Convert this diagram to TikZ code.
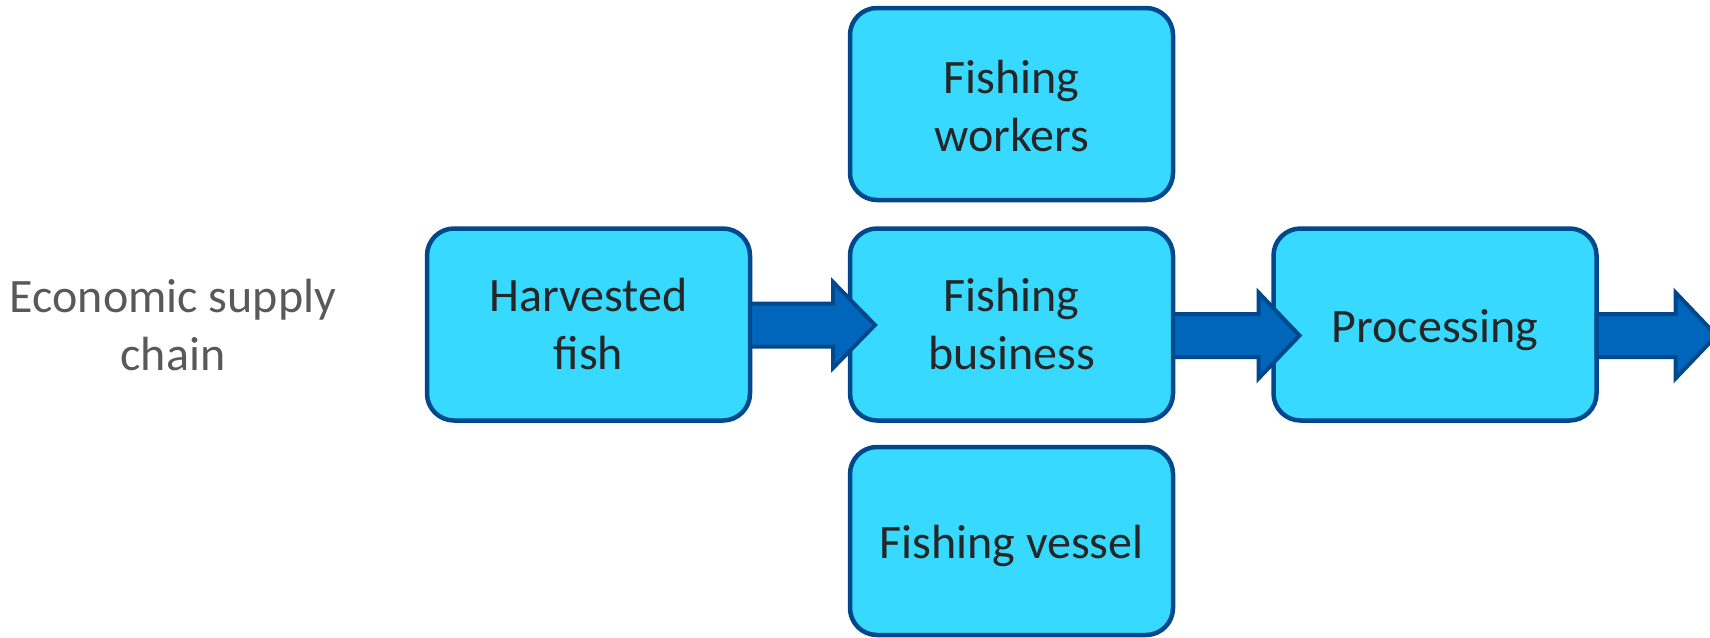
\documentclass[tikz,border=0pt]{standalone}
\usepackage{fontspec}
\setmainfont{Carlito}
\usetikzlibrary{calc}
\definecolor{boxfill}{RGB}{56,217,255}
\definecolor{boxline}{RGB}{0,72,140}
\definecolor{arrfill}{RGB}{0,102,187}
\definecolor{arrline}{RGB}{0,72,140}
\definecolor{boxtext}{RGB}{38,38,38}
\definecolor{labtext}{RGB}{89,89,89}
\tikzset{
  stagebox/.style={draw=boxline, fill=boxfill, line width=4.5pt, rounded corners=27pt,
    minimum width=323pt, minimum height=192pt, inner sep=0pt, outer sep=0pt,
    align=center, text=boxtext, font=\fontsize{48pt}{58pt}\selectfont},
  sidelabel/.style={align=center, text=labtext, inner sep=0pt, font=\fontsize{48pt}{58pt}\selectfont},
  fatarrow/.style={draw=arrline, fill=arrfill, line width=4pt, line join=miter}
}
\newcommand\fatarrowpath[3]{% start coord, end coord, head length
  \draw[fatarrow] let \p1=(#1), \p2=(#2) in
    (\x1,{\y1+21.5pt}) -- ({\x2-#3pt},{\y1+21.5pt}) -- ({\x2-#3pt},{\y1+43pt}) --
    (\x2,\y1) -- ({\x2-#3pt},{\y1-43pt}) -- ({\x2-#3pt},{\y1-21.5pt}) --
    (\x1,{\y1-21.5pt}) -- cycle;}
\newcommand\lowered[2]{\raisebox{-#1}[\height][\depth]{#2}}
\begin{document}
\begin{tikzpicture}[x=1pt,y=-1pt]
\useasboundingbox (0,0) rectangle (1710,637);
\node[sidelabel] (lab) at (173,325) {Economic supply\\chain};
\node[stagebox] (w) at (1011.5,104) {\lowered{2pt}{Fishing}\\\lowered{2pt}{workers}};
\node[stagebox] (b) at (1011.5,324.5) {Fishing\\business};
\node[stagebox] (h) at (588.5,324.5) {Harvested\\fish};
\node[stagebox] (p) at (1435,324.5) {\lowered{6pt}{Processing}};
\node[stagebox, minimum height=188pt] (v) at (1011.5,541) {\lowered{5pt}{Fishing vessel}};
% arrows
\path (h.east) ++(0,0.5) coordinate (a1s);
\path (b.west) ++(25,0.5) coordinate (a1e);
\path (b.east) ++(0,11) coordinate (a2s);
\path (p.west) ++(26,11) coordinate (a2e);
\path (p.east) ++(0,11) coordinate (a3s);
\path (p.east) ++(120,11) coordinate (a3e);
\fatarrowpath{a1s}{a1e}{42}
\fatarrowpath{a2s}{a2e}{41}
\fatarrowpath{a3s}{a3e}{41}
\end{tikzpicture}
\end{document}
